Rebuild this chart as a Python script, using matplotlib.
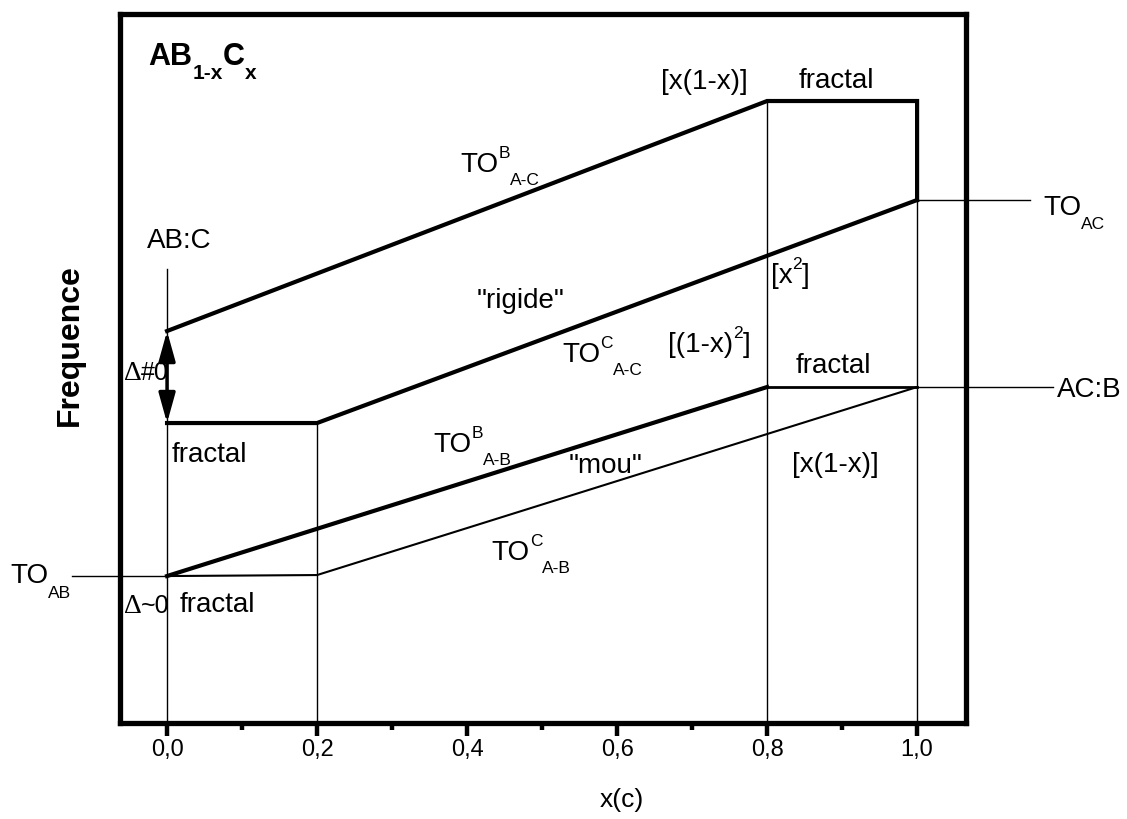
import matplotlib
matplotlib.use('Agg')
import matplotlib.pyplot as plt

plt.rcParams['font.family'] = ['Liberation Sans', 'DejaVu Sans']

# composition x and frequency (arbitrary units) of the four branches
x_toB_AC = [0.0, 0.8, 1.0, 1.0]
y_toB_AC = [392, 622, 622, 523]
x_toC_AC = [0.0, 0.2, 1.0]
y_toC_AC = [300, 300, 523]
x_toB_AB = [0.0, 0.8]
y_toB_AB = [147, 336]
x_frac_AB = [0.8, 1.0]
y_frac_AB = [336, 336]
x_toC_AB = [0.0, 0.2, 1.0]
y_toC_AB = [147, 148, 336]

# guide lines (x position, top)
guide_x = [0.0, 0.2, 0.8, 1.0]
guide_top = [454, 300, 622, 622]

# reference levels outside the frame
ref_TO_AB = 147
ref_TO_AC = 523
ref_AC_B = 336

xticks = [0.0, 0.2, 0.4, 0.6, 0.8, 1.0]
xtick_labels = ['0,0', '0,2', '0,4', '0,6', '0,8', '1,0']
xminor = [0.1, 0.3, 0.5, 0.7, 0.9]

fig = plt.figure(figsize=(11.27, 8.2), dpi=100)
ax = fig.add_axes([0.1065, 0.117, 0.7505, 0.8647])
renderer = fig.canvas.get_renderer()

ax.set_xlim(-0.0627, 1.065)
ax.set_ylim(0, 709)

for gx, gt in zip(guide_x, guide_top):
    ax.plot([gx, gx], [0, gt], color='black', lw=1.0)

ax.plot(x_toB_AC, y_toB_AC, color='black', lw=3.0, solid_joinstyle='miter')
ax.plot(x_toC_AC, y_toC_AC, color='black', lw=3.0)
ax.plot(x_toB_AB, y_toB_AB, color='black', lw=3.0)
ax.plot(x_frac_AB, y_frac_AB, color='black', lw=2.0)
ax.plot(x_toC_AB, y_toC_AB, color='black', lw=1.5)

ax.plot([-0.127, 0.0], [ref_TO_AB, ref_TO_AB], color='black', lw=1.0, clip_on=False)
ax.plot([1.0, 1.151], [ref_TO_AC, ref_TO_AC], color='black', lw=1.0, clip_on=False)
ax.plot([1.0, 1.181], [ref_AC_B, ref_AC_B], color='black', lw=1.0, clip_on=False)

# double arrow at x=0
ax.annotate('', xy=(0.0, 300), xytext=(0.0, 392),
            arrowprops=dict(arrowstyle='<|-|>,head_length=0.9,head_width=0.25',
                            lw=2.5, color='black', mutation_scale=20,
                            shrinkA=0, shrinkB=0))

SERIF = ['Liberation Serif', 'DejaVu Serif']


def label(x, y, parts, weight='normal', ha='left'):
    # parts: (text, vertical shift in pt, size[, family])
    items = []
    off = 0
    for p in parts:
        txt, dy, sz = p[0], p[1], p[2]
        t = ax.annotate(txt, xy=(x, y), xytext=(off, dy), textcoords='offset points',
                        fontsize=sz, fontweight=weight, ha='left', va='baseline',
                        annotation_clip=False)
        if len(p) > 3:
            t.set_family(p[3])
        w = t.get_window_extent(renderer).width * 72 / fig.dpi
        items.append((t, off, dy))
        off += w
    if ha == 'center':
        for t, o, dy in items:
            t.xyann = (o - off / 2, dy)


S = 20
SS = 12.5
UP = 10
DN = -9

label(-0.025, 659, [('AB', 0, 22), ('1-x', -10, 15), ('C', 0, 22), ('x', -10, 15)], weight='bold')

label(0.391, 552, [('TO', 0, S), ('B', UP, SS), ('A-C', DN, SS)])
label(0.527, 362, [('TO', 0, S), ('C', UP, SS), ('A-C', DN, SS)])
label(0.355, 272, [('TO', 0, S), ('B', UP, SS), ('A-B', DN, SS)])
label(0.433, 164, [('TO', 0, S), ('C', UP, SS), ('A-B', DN, SS)])
label(1.168, 509, [('TO', 0, S), ('AC', -10, SS)])
label(-0.209, 141, [('TO', 0, S), ('AB', -11, SS)])

label(0.717, 635, [('[x(1-x)]', 0, S)], ha='center')
label(0.892, 636, [('fractal', 0, S)], ha='center')
label(0.831, 441, [('[x', 0, S), ('2', UP, SS), (']', 0, S)], ha='center')
label(0.668, 372, [('[(1-x)', 0, S), ('2', UP, SS), (']', 0, S)])
label(0.888, 351, [('fractal', 0, S)], ha='center')
label(1.187, 327, [('AC:B', 0, S)])
label(-0.027, 476, [('AB:C', 0, S)])
label(0.471, 416, [('"rigide"', 0, S)], ha='center')
label(-0.058, 344, [('\u0394', 0, 20, SERIF), ('#0', 0, 18)])
label(0.0067, 262, [('fractal', 0, S)])
label(0.535, 251, [('"mou"', 0, S)])
label(0.891, 252, [('[x(1-x)]', 0, S)], ha='center')
label(-0.058, 111, [('\u0394', 0, 20, SERIF), ('~0', 0, 18)])
label(0.017, 112, [('fractal', 0, S)])

ax.set_yticks([])
ax.set_xticks(xticks)
ax.set_xticklabels(xtick_labels, fontsize=17)
ax.set_xticks(xminor, minor=True)
ax.tick_params(axis='x', which='major', direction='out', length=9, width=3.2, pad=2)
ax.tick_params(axis='x', which='minor', direction='out', length=5, width=3.2)
for sp in ax.spines.values():
    sp.set_linewidth(3.8)

fig.text(70 / 1127, 1 - 345 / 820, 'Frequence', rotation=90, fontsize=23,
         fontweight='bold', ha='center', va='center')
fig.text(622 / 1127, 1 - 800 / 820, 'x(c)', fontsize=19, ha='center', va='center')

fig.savefig('out.png', dpi=100)
